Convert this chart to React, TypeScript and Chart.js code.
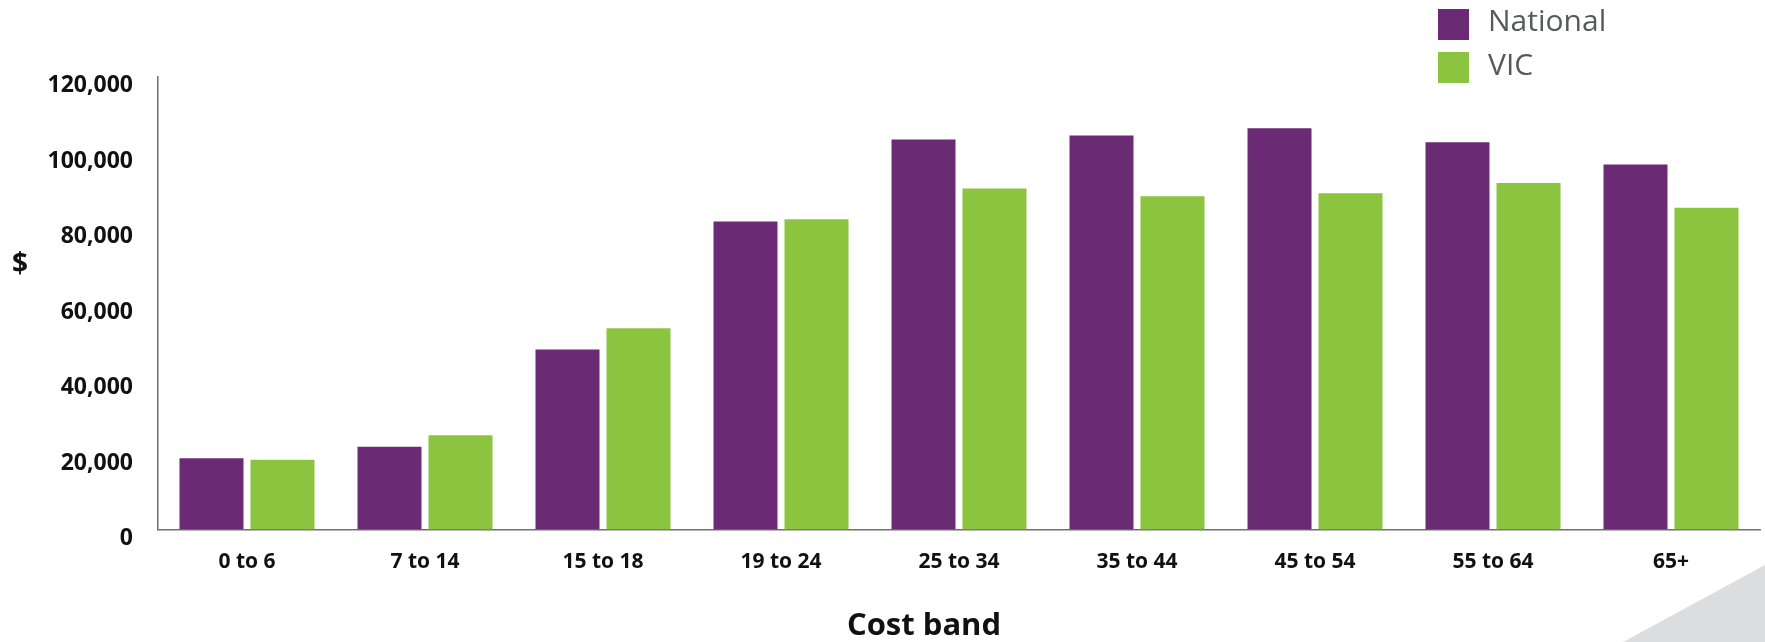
import React, { useEffect, useRef } from "react";
import { Chart, registerables } from "chart.js";

Chart.register(...registerables);

const categories = ["0 to 6", "7 to 14", "15 to 18", "19 to 24", "25 to 34", "35 to 44", "45 to 54", "55 to 64", "65+"];
const nationalValues = [18900, 21900, 47700, 81600, 103300, 104400, 106300, 102600, 96700];
const vicValues = [18500, 25000, 53300, 82200, 90300, 88300, 89100, 91800, 85200];
const seriesLabels = ["National", "VIC"];
const seriesColors = ["#6b2a74", "#8bc540"];
const yTicks = [0, 20000, 40000, 60000, 80000, 100000, 120000];
const xTitle = "Cost band";
const yTitle = "$";

const W = 1765;
const H = 642;

const decorPlugin = {
  id: "decor",
  beforeDraw(chart: any) {
    const ctx = chart.ctx;
    ctx.save();
    ctx.fillStyle = "#dcdddf";
    ctx.beginPath();
    ctx.moveTo(chart.width - 142, chart.height);
    ctx.lineTo(chart.width, chart.height - 77);
    ctx.lineTo(chart.width, chart.height);
    ctx.closePath();
    ctx.fill();
    ctx.restore();
  },
  afterDraw(chart: any) {
    const ctx = chart.ctx;
    ctx.save();
    // legend
    const ds = chart.data.datasets;
    ds.forEach((d: any, i: number) => {
      const top = 9 + i * 43;
      ctx.fillStyle = d.backgroundColor;
      ctx.fillRect(1438, top, 31, 31);
      ctx.fillStyle = "#58595b";
      ctx.font = "30px 'Open Sans'";
      ctx.textAlign = "left";
      ctx.textBaseline = "middle";
      ctx.fillText(d.label, 1488, top + 13 + i);
    });
    // y title
    ctx.fillStyle = "#111";
    ctx.font = "bold 28px 'Open Sans'";
    ctx.textAlign = "center";
    ctx.textBaseline = "middle";
    ctx.fillText(yTitle, 20, 265);
    // x title
    ctx.font = "bold 31px 'Open Sans'";
    ctx.fillText(xTitle, 924, 626);
    ctx.restore();
  },
};

export default function App() {
  const ref = useRef<HTMLCanvasElement | null>(null);
  useEffect(() => {
    document.body.style.margin = "0";
    const canvas = ref.current;
    if (!canvas) return;
    const chart = new Chart(canvas, {
      type: "bar",
      data: {
        labels: categories,
        datasets: [
          { label: seriesLabels[0], data: nationalValues, backgroundColor: seriesColors[0] },
          { label: seriesLabels[1], data: vicValues, backgroundColor: seriesColors[1] },
        ],
      },
      options: {
        animation: false,
        responsive: false,
        maintainAspectRatio: false,
        layout: { padding: { top: 76.5, right: 5, left: 0, bottom: 0 } },
        plugins: { legend: { display: false }, tooltip: { enabled: false }, title: { display: false } },
        datasets: { bar: { categoryPercentage: 0.7978, barPercentage: 0.9014 } },
        scales: {
          x: {
            grid: { display: false, drawTicks: false },
            border: { display: true, color: "#707070", width: 1.5 },
            ticks: { color: "#111", font: { family: "'Open Sans'", size: 21, weight: "bold" }, padding: 20, maxRotation: 0, autoSkip: false },
            afterFit(scale: any) { scale.height = H - 529.5; },
          },
          y: {
            min: 0,
            max: 120000,
            grid: { display: false, drawTicks: false },
            border: { display: true, color: "#707070", width: 1.5 },
            afterBuildTicks(scale: any) { scale.ticks = yTicks.map((v) => ({ value: v })); },
            ticks: {
              color: "#111",
              font: { family: "'Open Sans'", size: 23, weight: "bold" },
              padding: 25,
              labelOffset: 9,
              callback: (v: any) => Number(v).toLocaleString("en-US"),
            },
            afterFit(scale: any) { scale.width = 158; },
          },
        },
      },
      plugins: [decorPlugin],
    } as any);
    return () => chart.destroy();
  }, []);
  return (
    <div style={{ position: "fixed", left: 0, top: 0, width: W, height: H, background: "#fff" }}>
      <canvas ref={ref} width={W} height={H} style={{ display: "block", width: W, height: H }} />
    </div>
  );
}
